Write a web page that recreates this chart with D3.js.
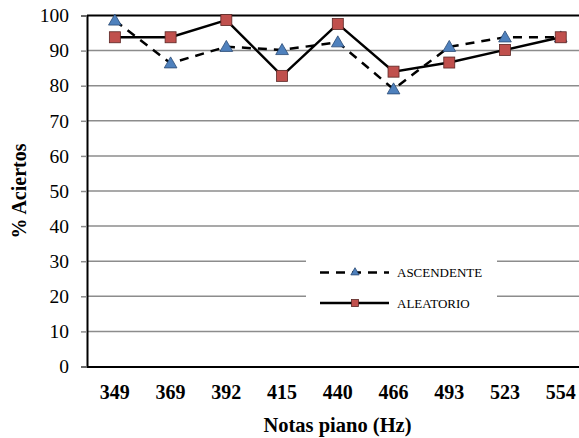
<!DOCTYPE html>
<html>
<head>
<meta charset="utf-8">
<script src="https://cdn.jsdelivr.net/npm/d3@7"></script>
<style>
  svg text { font-family: "Liberation Serif", "Times New Roman", Tinos, serif !important; }
</style>
</head>
<body style="margin:0;background:#fff">
<svg id="chart" width="579" height="438"></svg>
<script>
const notes = ['349', '369', '392', '415', '440', '466', '493', '523', '554'];
const ascendente = [98.6, 86.4, 91.1, 90.2, 92.4, 79.0, 91.1, 93.8, 93.8];
const aleatorio = [93.8, 93.8, 98.7, 82.8, 97.6, 84.0, 86.6, 90.2, 93.8];
const yTicks = [0, 10, 20, 30, 40, 50, 60, 70, 80, 90, 100];

const FONT = '"Liberation Serif", "Times New Roman", serif';
const svg = d3.select('#chart');
const margin = { top: 15.5, left: 87, bottom: 71.5 };
const plotRight = 588.6;
const height = 438 - margin.bottom;

const x = d3.scaleBand().domain(notes).range([margin.left, plotRight]);
const y = d3.scaleLinear().domain([0, 100]).range([height, margin.top]);
const cx = d => x(d) + x.bandwidth() / 2;

// gridlines
svg.append('g')
  .selectAll('line')
  .data(yTicks.filter(t => t > 0 && t < 100))
  .enter()
  .append('line')
  .attr('x1', margin.left)
  .attr('x2', plotRight)
  .attr('y1', d => y(d))
  .attr('y2', d => y(d))
  .attr('stroke', '#8c8c8c')
  .attr('stroke-width', 1.5);

svg.append('line')
  .attr('x1', margin.left).attr('x2', plotRight)
  .attr('y1', y(100)).attr('y2', y(100))
  .attr('stroke', '#000').attr('stroke-width', 2);

// y axis
const yAxis = svg.append('g')
  .attr('transform', `translate(${margin.left},0)`)
  .call(d3.axisLeft(y).tickValues(yTicks).tickSize(6).tickPadding(12))
  .attr('font-family', FONT);
yAxis.select('.domain').attr('stroke', '#000').attr('stroke-width', 2);
yAxis.selectAll('.tick line').attr('stroke', '#8c8c8c').attr('stroke-width', 1.5);
yAxis.selectAll('text')
  .attr('font-family', FONT)
  .style('font-size', '19.5px')
  .attr('fill', '#000');

// x axis
const xAxis = svg.append('g')
  .attr('transform', `translate(0,${height})`)
  .call(d3.axisBottom(x).tickSize(0).tickPadding(18))
  .attr('font-family', FONT);
xAxis.select('.domain').attr('stroke', '#000').attr('stroke-width', 2);
xAxis.selectAll('text')
  .attr('font-family', FONT)
  .style('font-size', '20px')
  .style('font-weight', 'bold')
  .attr('fill', '#000');

// titles
svg.append('text')
  .attr('x', 337.5).attr('y', 432)
  .attr('text-anchor', 'middle')
  .attr('font-family', FONT)
  .style('font-size', '20.5px').style('font-weight', 'bold')
  .text('Notas piano (Hz)');

svg.append('text')
  .attr('transform', `translate(25.5,${(margin.top + height) / 2}) rotate(-90)`)
  .attr('text-anchor', 'middle')
  .attr('font-family', FONT)
  .style('font-size', '20px').style('font-weight', 'bold')
  .text('% Aciertos');

// lines
const line = d3.line().x((d, i) => cx(notes[i])).y(d => y(d));

svg.append('path')
  .datum(ascendente)
  .attr('d', line)
  .attr('fill', 'none')
  .attr('stroke', '#000')
  .attr('stroke-width', 2.5)
  .attr('stroke-dasharray', '9,7');

svg.append('path')
  .datum(aleatorio)
  .attr('d', line)
  .attr('fill', 'none')
  .attr('stroke', '#000')
  .attr('stroke-width', 2.5);

const tri = d3.symbol().type(d3.symbolTriangle).size(70);

svg.append('g')
  .selectAll('path')
  .data(ascendente)
  .enter()
  .append('path')
  .attr('d', tri)
  .attr('transform', (d, i) => `translate(${cx(notes[i])},${y(d) + 1})`)
  .attr('fill', '#4f81bd')
  .attr('stroke', '#2a4a75')
  .attr('stroke-width', 0.8);

svg.append('g')
  .selectAll('rect')
  .data(aleatorio)
  .enter()
  .append('rect')
  .attr('x', (d, i) => cx(notes[i]) - 5.5)
  .attr('y', d => y(d) - 5.5)
  .attr('width', 11)
  .attr('height', 11)
  .attr('fill', '#c0504d')
  .attr('stroke', '#5a2624')
  .attr('stroke-width', 0.8);

// legend
const legend = svg.append('g');
legend.append('rect')
  .attr('x', 306).attr('y', 253)
  .attr('width', 191).attr('height', 66)
  .attr('fill', '#fff');

const legendItems = [
  { name: 'ASCENDENTE', dash: '9,7', marker: 'tri', color: '#4f81bd', stroke: '#2a4a75' },
  { name: 'ALEATORIO', dash: null, marker: 'sq', color: '#c0504d', stroke: '#5a2624' }
];

legendItems.forEach((it, i) => {
  const ly = 272.5 + i * 30.5;
  legend.append('line')
    .attr('x1', 320).attr('x2', 389)
    .attr('y1', ly).attr('y2', ly)
    .attr('stroke', '#000').attr('stroke-width', 2.5)
    .attr('stroke-dasharray', it.dash);
  if (it.marker === 'tri') {
    legend.append('path')
      .attr('d', d3.symbol().type(d3.symbolTriangle).size(30))
      .attr('transform', `translate(355,${ly})`)
      .attr('fill', it.color).attr('stroke', it.stroke).attr('stroke-width', 0.8);
  } else {
    legend.append('rect')
      .attr('x', 351.5).attr('y', ly - 3.5).attr('width', 7).attr('height', 7)
      .attr('fill', it.color).attr('stroke', it.stroke).attr('stroke-width', 0.8);
  }
  legend.append('text')
    .attr('x', 397).attr('y', ly + 4.5)
    .attr('font-family', FONT)
    .style('font-size', '13px')
    .text(it.name);
});
</script>
</body>
</html>
